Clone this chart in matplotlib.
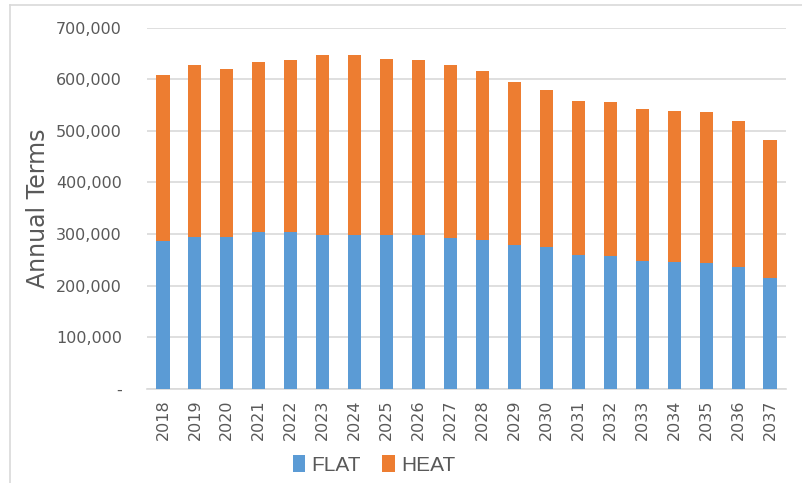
import numpy as np
import matplotlib
matplotlib.use("Agg")
import matplotlib.pyplot as plt
from matplotlib.lines import Line2D
from matplotlib.ticker import FuncFormatter

# === DATEN ===
years = [str(y) for y in range(2018, 2038)]
flat = [287000, 295000, 295000, 303000, 303000, 299000, 299000, 299000, 299000, 293000,
        289000, 279000, 274000, 260000, 258000, 247000, 245500, 243600, 235000, 213600]
total = [609000, 629000, 621000, 634000, 637000, 647000, 647000, 640000, 638000, 629000,
         617000, 596000, 579000, 559000, 557000, 542000, 538000, 536000, 519000, 482000]
heat = [t - f for t, f in zip(total, flat)]

c_flat = '#5B9BD5'
c_heat = '#ED7D31'
c_text = '#595959'
c_grid = '#D9D9D9'

W, H = 802, 483
fig = plt.figure(figsize=(W / 100, H / 100), dpi=100)
ax = fig.add_axes([147 / W, 1 - 388.5 / H, (786 - 147) / W, (388.5 - 28) / H])

x = np.arange(len(years))
ax.bar(x, flat, width=0.41, color=c_flat, label='FLAT', zorder=3)
ax.bar(x, heat, width=0.41, bottom=flat, color=c_heat, label='HEAT', zorder=3)

ax.set_xlim(-0.5, len(years) - 0.5)
ax.set_ylim(0, 700000)
ax.set_yticks(np.arange(0, 700001, 100000))
ax.yaxis.set_major_formatter(FuncFormatter(lambda v, p: '-' if v == 0 else f'{int(v):,}'))
ax.set_xticks(x)
ax.set_xticklabels(years, rotation=90)

ax.grid(axis='y', color=c_grid, linewidth=1.2, zorder=0)
for s in ['top', 'right', 'left']:
    ax.spines[s].set_visible(False)
ax.spines['bottom'].set_color(c_grid)
ax.spines['bottom'].set_linewidth(1.2)
ax.tick_params(length=0, colors=c_text, labelsize=11.5)
ax.tick_params(axis='y', pad=18)
ax.tick_params(axis='x', pad=8)

ax.set_ylabel('Annual Terms', fontsize=17, color=c_text, labelpad=4)

ax.legend(loc='center', bbox_to_anchor=(374 / W, 1 - 465 / H), bbox_transform=fig.transFigure,
          ncol=2, frameon=False, handlelength=0.6, handleheight=0.9,
          handletextpad=0.3, columnspacing=1.0, labelcolor=c_text,
          prop={'family': 'Liberation Sans', 'size': 15})

# Rahmen um das Diagramm
fig.add_artist(Line2D([10 / W, 1], [1 - 5 / H, 1 - 5 / H], color=c_grid, linewidth=1.2))
fig.add_artist(Line2D([10 / W, 10 / W], [0, 1 - 5 / H], color=c_grid, linewidth=1.2))

plt.savefig('out.png', dpi=100)
